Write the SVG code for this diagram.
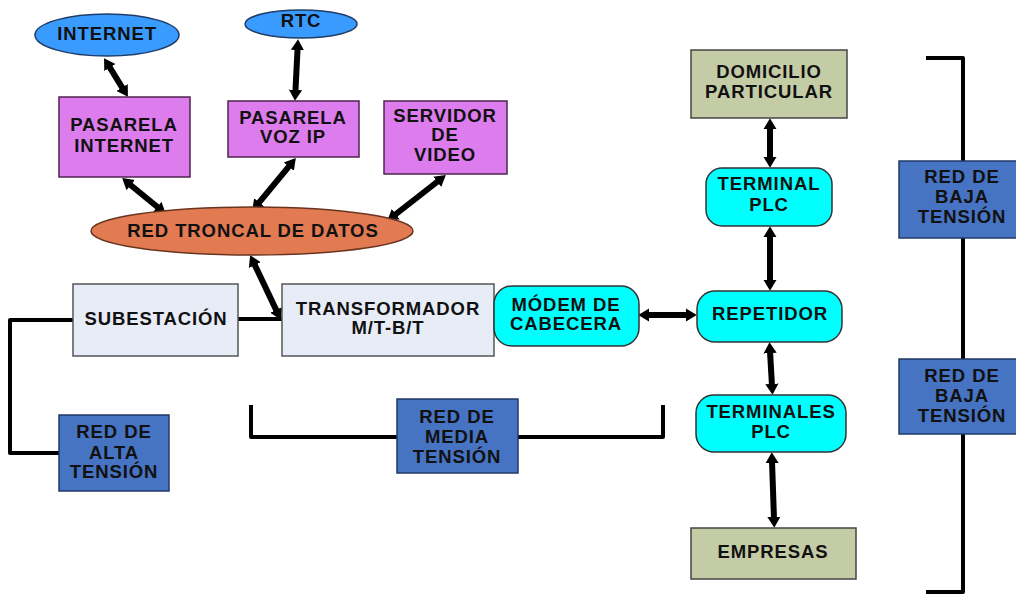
<svg xmlns="http://www.w3.org/2000/svg" width="1016" height="595" viewBox="0 0 1016 595">
<style>
text{font-family:"Liberation Sans",Arial,sans-serif;font-weight:bold;font-size:18.5px;letter-spacing:0.9px;fill:#111;text-anchor:middle}
.cloud{fill:#3a9bff;stroke:#1f3d66;stroke-width:1.5}
.purple{fill:#dc7ced;stroke:#4f2350;stroke-width:1.5}
.troncal{fill:#e27a52;stroke:#6a3520;stroke-width:1.5}
.light{fill:#e8ecf6;stroke:#555;stroke-width:1.5}
.cyan{fill:#00ffff;stroke:#333;stroke-width:1.5}
.olive{fill:#c4cca6;stroke:#444;stroke-width:1.5}
.net{fill:#4673c2;stroke:#223a66;stroke-width:1.5}
.arr{stroke:#000;stroke-width:6;fill:none;marker-start:url(#ah);marker-end:url(#ah)}
.wire{stroke:#000;stroke-width:4;fill:none;stroke-linejoin:round}
</style>
<defs>
<marker id="ah" viewBox="0 0 10 12" refX="2" refY="6" markerWidth="11" markerHeight="16" markerUnits="userSpaceOnUse" orient="auto-start-reverse">
<path d="M0,0 L10,6 L0,12 z" fill="#000"/>
</marker>
</defs>
<rect width="1016" height="595" fill="#fff"/>

<g id="connectors">
<line class="arr" x1="108.7" y1="65.7" x2="123.3" y2="89.3"/>
<line class="arr" x1="297.6" y1="48" x2="295.4" y2="92"/>
<line class="arr" x1="129" y1="183.7" x2="159" y2="208.3"/>
<line class="arr" x1="290.2" y1="164.9" x2="257.8" y2="204.1"/>
<line class="arr" x1="438.9" y1="180.5" x2="394.1" y2="215.5"/>
<line class="arr" x1="253.9" y1="263.1" x2="277.1" y2="311.9"/>
<line class="arr" x1="770" y1="127" x2="770" y2="159"/>
<line class="arr" x1="770" y1="235" x2="770" y2="282"/>
<line class="arr" x1="647" y1="315" x2="688" y2="315"/>
<line class="arr" x1="770" y1="351" x2="772" y2="386"/>
<line class="arr" x1="772" y1="461" x2="774" y2="519"/>
<polyline class="wire" points="73,320 10,320 10,453 59,453"/>
<line class="wire" x1="238" y1="319" x2="282" y2="319"/>
<polyline class="wire" points="251,405 251,437 397,437"/>
<polyline class="wire" points="518,437 663,437 663,405"/>
<polyline class="wire" points="926,58 963,58 963,161"/>
<line class="wire" x1="963" y1="238" x2="963" y2="359"/>
<polyline class="wire" points="963,434 963,592 926,592"/>
</g>

<g id="internet"><ellipse class="cloud" cx="107" cy="35" rx="72" ry="21"/><text x="107" y="40">INTERNET</text></g>
<g id="rtc"><ellipse class="cloud" cx="301" cy="24" rx="56" ry="14"/><text x="301" y="27">RTC</text></g>
<g id="pasarela-internet"><rect class="purple" x="59" y="97" width="131" height="80"/><text x="124" y="131">PASARELA</text><text x="124" y="152">INTERNET</text></g>
<g id="pasarela-voz"><rect class="purple" x="228" y="101" width="131" height="56"/><text x="293" y="124">PASARELA</text><text x="293" y="143">VOZ IP</text></g>
<g id="servidor-video"><rect class="purple" x="384" y="101" width="123" height="73"/><text x="445" y="122">SERVIDOR</text><text x="445" y="141">DE</text><text x="445" y="161">VIDEO</text></g>
<g id="red-troncal"><ellipse class="troncal" cx="252" cy="231" rx="161" ry="24"/><text x="253" y="237">RED TRONCAL DE DATOS</text></g>
<g id="subestacion"><rect class="light" x="73" y="284" width="165" height="72"/><text x="156" y="325">SUBESTACIÓN</text></g>
<g id="transformador"><rect class="light" x="282" y="284" width="212" height="72"/><text x="388" y="315">TRANSFORMADOR</text><text x="388" y="334">M/T-B/T</text></g>
<g id="modem"><rect class="cyan" x="494" y="286" width="145" height="60" rx="18"/><text x="566" y="311">MÓDEM DE</text><text x="566" y="330">CABECERA</text></g>
<g id="repetidor"><rect class="cyan" x="697" y="291" width="145" height="51" rx="18"/><text x="770" y="320">REPETIDOR</text></g>
<g id="terminales-plc"><rect class="cyan" x="696" y="395" width="150" height="57" rx="18"/><text x="771" y="418">TERMINALES</text><text x="771" y="438">PLC</text></g>
<g id="terminal-plc"><rect class="cyan" x="706" y="168" width="126" height="58" rx="16"/><text x="769" y="190">TERMINAL</text><text x="769" y="211">PLC</text></g>
<g id="domicilio"><rect class="olive" x="691" y="50" width="156" height="68"/><text x="769" y="78">DOMICILIO</text><text x="769" y="98">PARTICULAR</text></g>
<g id="empresas"><rect class="olive" x="691" y="528" width="165" height="51"/><text x="773" y="558">EMPRESAS</text></g>
<g id="red-alta"><rect class="net" x="59" y="415" width="110" height="76"/><text x="114" y="438">RED DE</text><text x="114" y="459">ALTA</text><text x="114" y="478">TENSIÓN</text></g>
<g id="red-media"><rect class="net" x="397" y="399" width="121" height="74"/><text x="457" y="423">RED DE</text><text x="457" y="443">MEDIA</text><text x="457" y="463">TENSIÓN</text></g>
<g id="red-baja-1"><rect class="net" x="899" y="161" width="125" height="77"/><text x="962" y="183">RED DE</text><text x="962" y="203">BAJA</text><text x="962" y="223">TENSIÓN</text></g>
<g id="red-baja-2"><rect class="net" x="899" y="359" width="125" height="75"/><text x="962" y="382">RED DE</text><text x="962" y="402">BAJA</text><text x="962" y="422">TENSIÓN</text></g>
</svg>
